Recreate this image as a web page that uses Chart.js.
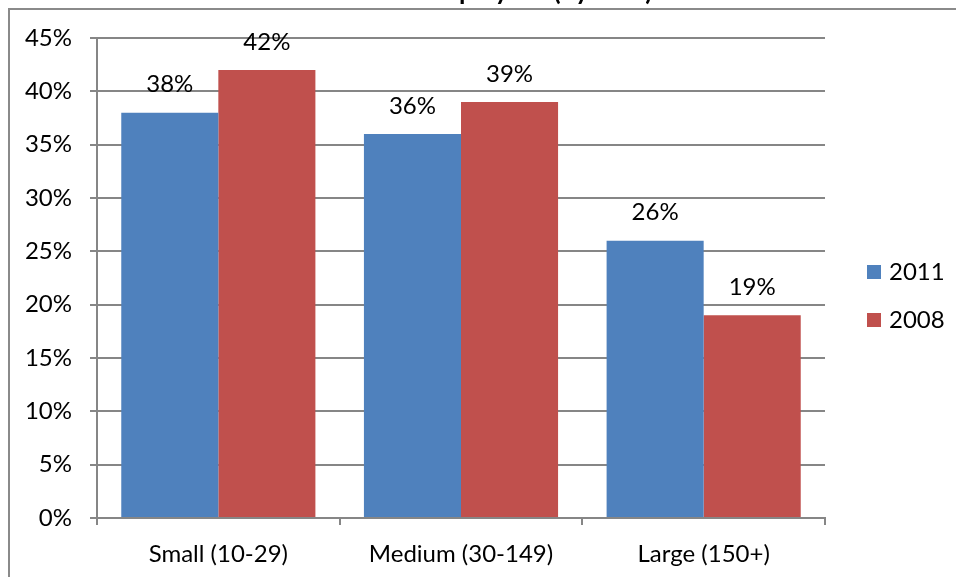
<!DOCTYPE html>
<html>
<head>
<meta charset="utf-8">
<script src="https://cdn.jsdelivr.net/npm/chart.js@4/dist/chart.umd.min.js"></script>
<style>
  html, body { margin: 0; padding: 0; background: #ffffff; }
  canvas { display: block; }
</style>
</head>
<body>
<canvas id="c" width="956" height="577"></canvas>
<script>
const chartTitle = 'Number of Employees (by Year)';
const categories = ['Small (10-29)', 'Medium (30-149)', 'Large (150+)'];
const seriesNames = ['2011', '2008'];
const values2011 = [38, 36, 26];
const values2008 = [42, 39, 19];
const yTickValues = [0, 5, 10, 15, 20, 25, 30, 35, 40, 45];

const FONT = 'Lato, "Open Sans", sans-serif';
const GRID = '#868686';
const colors = ['#4F81BD', '#C0504D'];

const framePlugin = {
  id: 'frame',
  beforeDraw(chart) {
    const ctx = chart.ctx;
    ctx.save();
    ctx.fillStyle = '#ffffff';
    ctx.fillRect(0, 0, chart.width, chart.height);
    ctx.strokeStyle = '#8a8a8a';
    ctx.lineWidth = 2;
    ctx.beginPath();
    ctx.moveTo(9, chart.height);
    ctx.lineTo(9, 9);
    ctx.lineTo(chart.width, 9);
    ctx.stroke();
    // title (cut off at the top, as in the reference)
    ctx.fillStyle = '#000000';
    ctx.font = 'bold 26px ' + FONT;
    ctx.textAlign = 'center';
    ctx.textBaseline = 'alphabetic';
    ctx.fillText(chartTitle, 472, 0);
    ctx.restore();
  }
};

const valueLabelPlugin = {
  id: 'valueLabels',
  afterDatasetsDraw(chart) {
    const ctx = chart.ctx;
    ctx.save();
    ctx.fillStyle = '#000000';
    ctx.font = '24px ' + FONT;
    ctx.textAlign = 'center';
    ctx.textBaseline = 'middle';
    chart.data.datasets.forEach((ds, i) => {
      const meta = chart.getDatasetMeta(i);
      meta.data.forEach((bar, j) => {
        ctx.fillText(ds.data[j] + '%', bar.x, bar.y - 28);
      });
    });
    ctx.restore();
  }
};

const legendPlugin = {
  id: 'sideLegend',
  afterDraw(chart) {
    const ctx = chart.ctx;
    ctx.save();
    ctx.font = '24px ' + FONT;
    ctx.textAlign = 'left';
    ctx.textBaseline = 'middle';
    const x0 = chart.chartArea.right + 42;
    const yStart = 272;
    const gap = 48;
    chart.data.datasets.forEach((ds, i) => {
      const y = yStart + i * gap;
      ctx.fillStyle = ds.backgroundColor;
      ctx.fillRect(x0, y - 7, 14, 14);
      ctx.fillStyle = '#000000';
      ctx.fillText(ds.label, x0 + 22, y);
    });
    ctx.restore();
  }
};

new Chart(document.getElementById('c'), {
  type: 'bar',
  data: {
    labels: categories,
    datasets: [
      { label: seriesNames[0], data: values2011, backgroundColor: colors[0] },
      { label: seriesNames[1], data: values2008, backgroundColor: colors[1] }
    ]
  },
  options: {
    responsive: false,
    animation: false,
    layout: { padding: { top: 38, right: 131, left: 0, bottom: 0 } },
    datasets: { bar: { categoryPercentage: 0.8, barPercentage: 1.0, borderWidth: 0 } },
    plugins: { legend: { display: false }, tooltip: { enabled: false } },
    scales: {
      x: {
        grid: { offset: true, drawOnChartArea: false, drawTicks: true, tickLength: 7, color: GRID, lineWidth: 2 },
        border: { color: GRID, width: 2 },
        ticks: { color: '#000000', font: { family: FONT, size: 24 }, padding: 15 },
        afterFit(scale) { scale.height = 59; }
      },
      y: {
        min: 0, max: 45,
        afterBuildTicks(scale) { scale.ticks = yTickValues.map(v => ({ value: v })); },
        grid: { color: GRID, lineWidth: 2, tickLength: 7 },
        border: { color: GRID, width: 2 },
        ticks: { color: '#000000', font: { family: FONT, size: 24 }, padding: 18, callback: v => v + '%' },
        afterFit(scale) { scale.width = 97; }
      }
    }
  },
  plugins: [framePlugin, valueLabelPlugin, legendPlugin]
});
</script>
</body>
</html>
